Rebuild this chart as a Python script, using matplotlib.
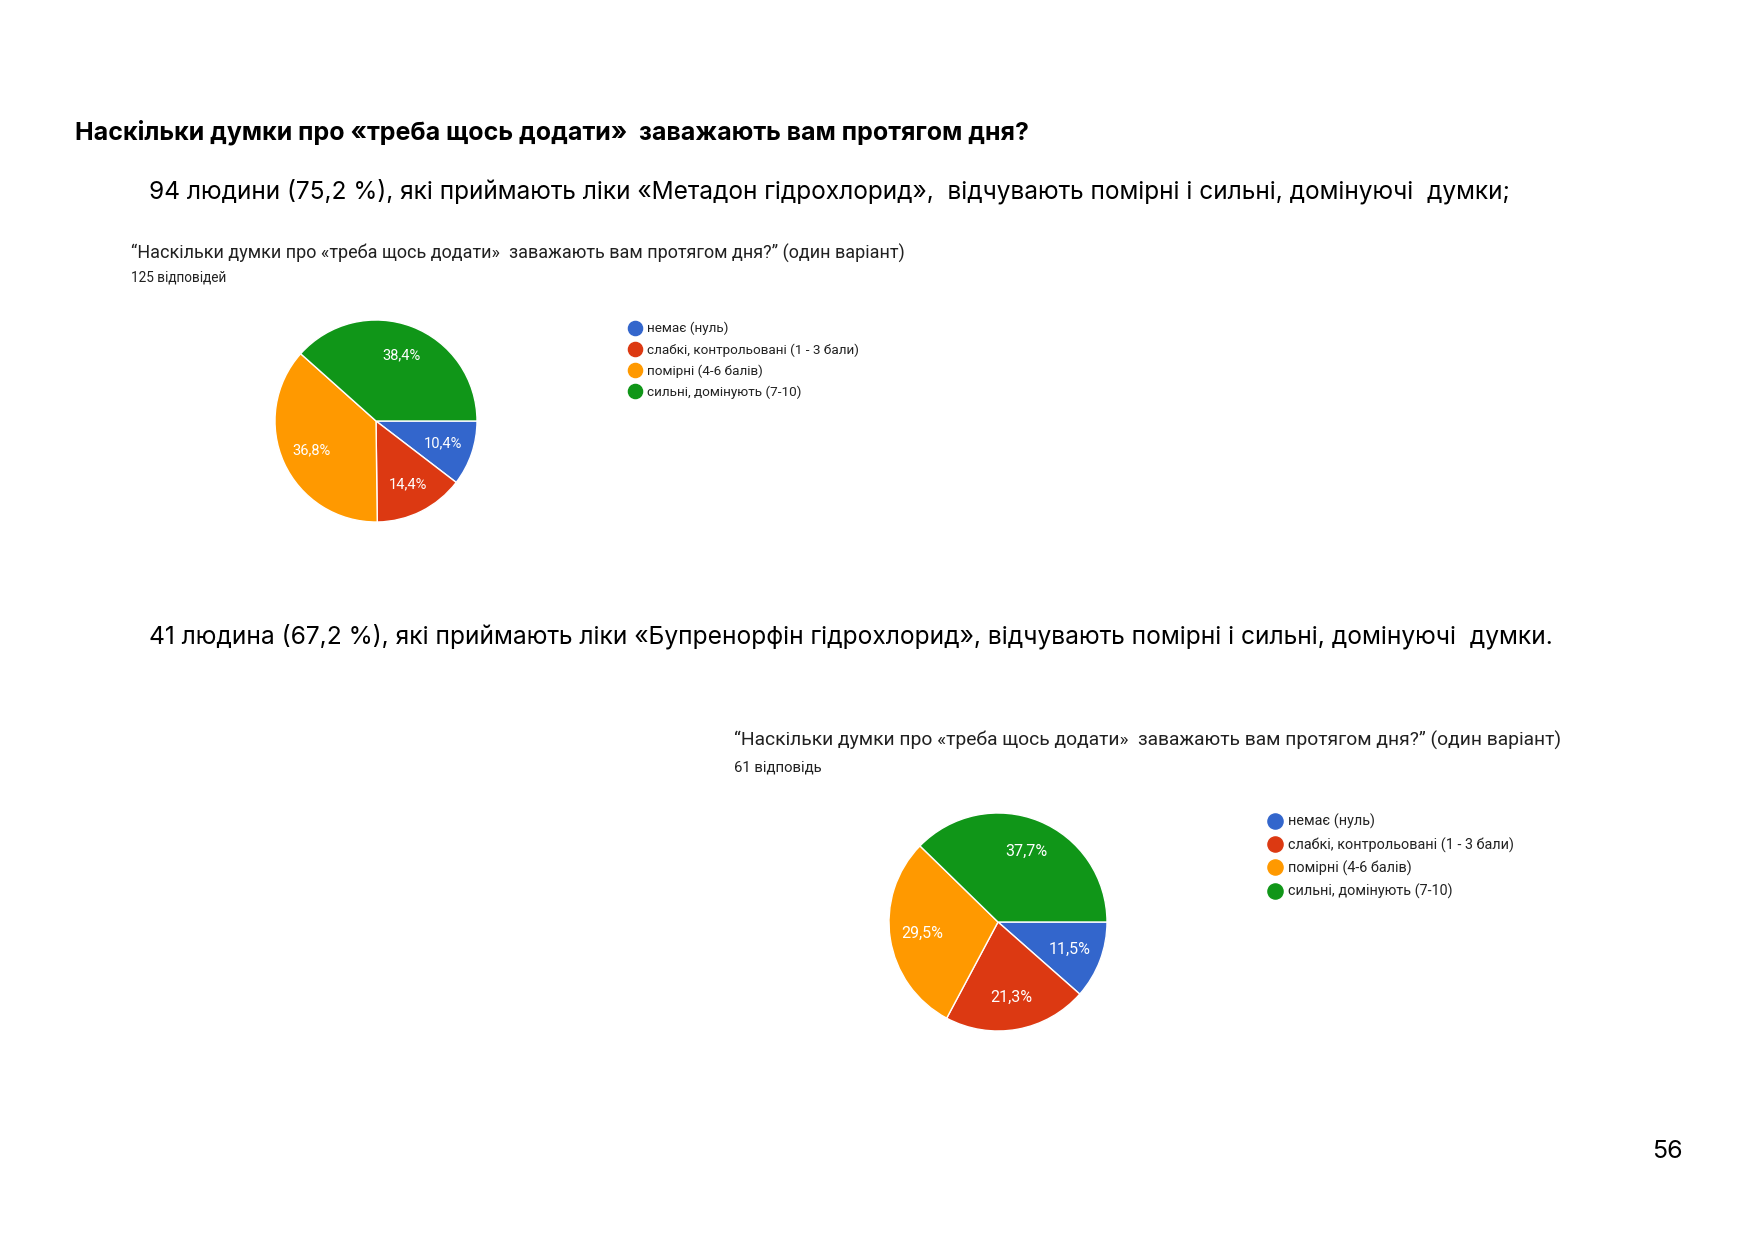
import matplotlib
matplotlib.use("Agg")
import matplotlib.pyplot as plt
from matplotlib.lines import Line2D

W, H = 1755, 1241

heading = "Наскільки думки про «треба щось додати»  заважають вам протягом дня?"
line_metadon = "94 людини (75,2 %), які приймають ліки «Метадон гідрохлорид»,  відчувають помірні і сильні, домінуючі  думки;"
line_bupren = "41 людина (67,2 %), які приймають ліки «Бупренорфін гідрохлорид», відчувають помірні і сильні, домінуючі  думки."
chart_title = "“Наскільки думки про «треба щось додати»  заважають вам протягом дня?” (один варіант)"
resp1 = "125 відповідей"
resp2 = "61 відповідь"
page_number = "56"

categories = ["немає (нуль)", "слабкі, контрольовані (1 - 3 бали)", "помірні (4-6 балів)", "сильні, домінують (7-10)"]
colors = ["#3366CC", "#DC3912", "#FF9900", "#109618"]
values1 = [10.4, 14.4, 36.8, 38.4]
values2 = [11.5, 21.3, 29.5, 37.7]

fig = plt.figure(figsize=(W / 100, H / 100), dpi=100)
fig.patch.set_facecolor("white")

def fx(x):
    return x / W

def fy(y):
    return 1 - y / H

HEAD_FONT = ["Inter", "DejaVu Sans"]
CHART_FONT = ["Roboto", "DejaVu Sans"]

fig.text(fx(75), fy(132), heading, fontsize=18.0, fontweight="bold", family=HEAD_FONT, va="center", ha="left", color="#000000")
fig.text(fx(149), fy(191), line_metadon, fontsize=17.6, family=HEAD_FONT, va="center", ha="left", color="#000000")
fig.text(fx(149), fy(636), line_bupren, fontsize=17.7, family=HEAD_FONT, va="center", ha="left", color="#000000")
fig.text(fx(1667), fy(1152), page_number, fontsize=18, family=HEAD_FONT, va="center", ha="center", color="#000000")

def draw_chart(cx, cy, r, values, title_xy, title_size, resp_text, resp_y, resp_size, leg_xy, leg_size, leg_spacing, lab_size):
    ax = fig.add_axes([fx(cx - r), fy(cy + r), 2 * r / W, 2 * r / H])
    wedges, texts, autotexts = ax.pie(
        values, colors=colors, startangle=0, counterclock=False,
        autopct=lambda p: f"{p:.1f}%".replace(".", ","), pctdistance=0.70,
        wedgeprops=dict(edgecolor="white", linewidth=1.0),
        textprops=dict(color="white", fontsize=lab_size, family=CHART_FONT))
    ax.set_xlim(-1, 1)
    ax.set_ylim(-1, 1)
    ax.axis("off")
    fig.text(fx(title_xy[0]), fy(title_xy[1]), chart_title, fontsize=title_size, family=CHART_FONT, va="center", ha="left", color="#212121")
    fig.text(fx(title_xy[0]), fy(resp_y), resp_text, fontsize=resp_size, family=CHART_FONT, va="center", ha="left", color="#212121")
    handles = [Line2D([], [], marker="o", linestyle="none", markersize=leg_size * 1.05, markerfacecolor=c, markeredgecolor=c) for c in colors]
    fig.legend(handles, categories, loc="upper left", bbox_to_anchor=(fx(leg_xy[0]), fy(leg_xy[1])),
               frameon=False, prop=dict(family=CHART_FONT, size=leg_size), labelcolor="#222222",
               handlelength=0.9, handletextpad=0.45, labelspacing=leg_spacing, borderpad=0, borderaxespad=0)

draw_chart(376, 421, 101, values1, (131, 253), 13.0, resp1, 277, 9.85, (629, 322), 9.7, 0.58, 10.5)
draw_chart(998, 922, 109, values2, (734, 740), 13.85, resp2, 767, 10.7, (1268, 814), 10.4, 0.55, 11.5)

fig.savefig("out.png", dpi=100, facecolor="white")
